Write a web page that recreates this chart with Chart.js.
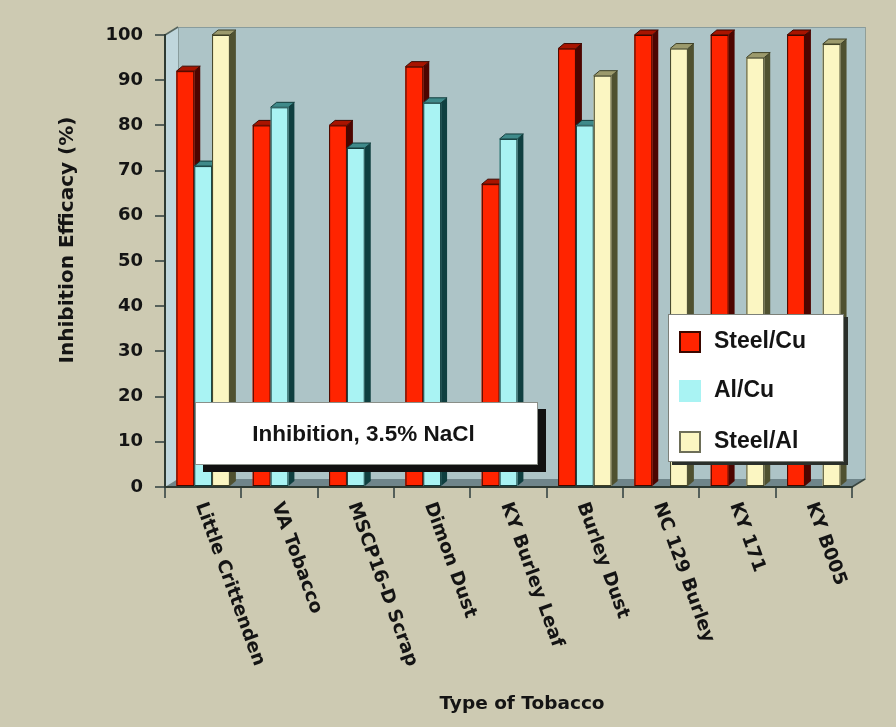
<!DOCTYPE html>
<html>
<head>
<meta charset="utf-8">
<script src="https://cdn.jsdelivr.net/npm/chart.js@4.4.1/dist/chart.umd.min.js"></script>
<style>
  html, body { margin: 0; padding: 0; background: #cdcab2; }
  #wrap { width: 896px; height: 727px; }
</style>
</head>
<body>
<div id="wrap"><canvas id="c" width="896" height="727"></canvas></div>
<script>
// Tobacco extract types along the x axis
const categories = ['Little Crittenden', 'VA Tobacco', 'MSCP16-D Scrap', 'Dimon Dust',
  'KY Burley Leaf', 'Burley Dust', 'NC 129 Burley', 'KY 171', 'KY B005'];

// Inhibition efficacy (%) per metal couple; null = not tested
const steelCu = [92, 80, 80, 93, 67, 97, 100, 100, 100];
const alCu    = [71, 84, 75, 85, 77, 80, null, null, null];
const steelAl = [100, null, null, null, null, 91, 97, 95, 98];

const seriesNames = ['Steel/Cu', 'Al/Cu', 'Steel/Al'];
const yTicks = [0, 10, 20, 30, 40, 50, 60, 70, 80, 90, 100];

const yTitle = 'Inhibition Efficacy (%)';
const xTitle = 'Type of Tobacco';
const noteText = 'Inhibition, 3.5% NaCl';

// Shading for the pseudo-3D columns: front face, right side, top cap, edge
const palettes = [
  { front: '#ff2400', side: '#4d0500', top: '#a81400', edge: '#3a0800' },
  { front: '#a9f3f3', side: '#0f3f40', top: '#3f8a8a', edge: '#123c3c' },
  { front: '#fbf6c2', side: '#4f5130', top: '#9c9a6c', edge: '#3d3f25' }
];

const INK = '#141414';
const DEJAVU = '"DejaVu Sans", sans-serif';
const LIB = '"Liberation Sans", Arial, sans-serif';

// Box depth of the plot (back wall offset) and of each column
const WALL = { dx: 13, dy: -8 };
const COL = { dx: 6, dy: -5 };

const scene3d = {
  id: 'scene3d',
  beforeDraw(chart) {
    const { ctx, chartArea: a } = chart;
    ctx.save();
    ctx.fillStyle = '#cdcab2';
    ctx.fillRect(0, 0, chart.width, chart.height);
    // back wall
    ctx.fillStyle = '#adc4c7';
    ctx.fillRect(a.left + WALL.dx, a.top + WALL.dy, a.right - a.left, a.bottom - a.top);
    ctx.strokeStyle = 'rgba(120,140,140,0.7)';
    ctx.lineWidth = 1;
    ctx.strokeRect(a.left + WALL.dx + 0.5, a.top + WALL.dy + 0.5, a.right - a.left, a.bottom - a.top);
    // left side wall
    ctx.fillStyle = '#bfd6dc';
    ctx.beginPath();
    ctx.moveTo(a.left, a.top);
    ctx.lineTo(a.left + WALL.dx, a.top + WALL.dy);
    ctx.lineTo(a.left + WALL.dx, a.bottom + WALL.dy);
    ctx.lineTo(a.left, a.bottom);
    ctx.closePath();
    ctx.fill();
    ctx.strokeStyle = '#56655e';
    ctx.lineWidth = 1.5;
    ctx.beginPath();
    ctx.moveTo(a.left, a.top);
    ctx.lineTo(a.left + WALL.dx, a.top + WALL.dy);
    ctx.stroke();
    // floor
    ctx.fillStyle = '#6f858a';
    ctx.beginPath();
    ctx.moveTo(a.left, a.bottom);
    ctx.lineTo(a.left + WALL.dx, a.bottom + WALL.dy);
    ctx.lineTo(a.right + WALL.dx, a.bottom + WALL.dy);
    ctx.lineTo(a.right, a.bottom);
    ctx.closePath();
    ctx.fill();
    ctx.strokeStyle = '#3a4640';
    ctx.beginPath();
    ctx.moveTo(a.right, a.bottom);
    ctx.lineTo(a.right + WALL.dx, a.bottom + WALL.dy);
    ctx.stroke();
    ctx.restore();
  },
  afterDatasetsDraw(chart) {
    const { ctx } = chart;
    ctx.save();
    const n = chart.data.labels.length;
    for (let i = 0; i < n; i++) {
      chart.data.datasets.forEach((ds, d) => {
        const meta = chart.getDatasetMeta(d);
        if (meta.hidden) return;
        const el = meta.data[i];
        if (!el || ds.data[i] == null) return;
        const p = el.getProps(['x', 'y', 'base', 'width'], true);
        const x0 = p.x - p.width / 2, x1 = p.x + p.width / 2;
        const yt = p.y, yb = p.base;
        const pal = palettes[d];
        // side face
        ctx.fillStyle = pal.side;
        ctx.beginPath();
        ctx.moveTo(x1, yt);
        ctx.lineTo(x1 + COL.dx, yt + COL.dy);
        ctx.lineTo(x1 + COL.dx, yb + COL.dy);
        ctx.lineTo(x1, yb);
        ctx.closePath();
        ctx.fill();
        // top cap
        ctx.fillStyle = pal.top;
        ctx.beginPath();
        ctx.moveTo(x0, yt);
        ctx.lineTo(x0 + COL.dx, yt + COL.dy);
        ctx.lineTo(x1 + COL.dx, yt + COL.dy);
        ctx.lineTo(x1, yt);
        ctx.closePath();
        ctx.fill();
        ctx.strokeStyle = pal.edge;
        ctx.lineWidth = 1;
        ctx.stroke();
        // front face
        ctx.fillStyle = pal.front;
        ctx.fillRect(x0, yt, x1 - x0, yb - yt);
        ctx.strokeStyle = pal.edge;
        ctx.strokeRect(x0 + 0.5, yt + 0.5, x1 - x0 - 1, yb - yt - 1);
      });
    }

    // annotation box with drop shadow
    const a = chart.chartArea;
    const bx = a.left + 30, by = 402, bw = 343, bh = 63;
    ctx.fillStyle = '#111';
    ctx.fillRect(bx + 8, by + 7, bw, bh);
    ctx.fillStyle = '#ffffff';
    ctx.fillRect(bx, by, bw, bh);
    ctx.strokeStyle = '#8a8f88';
    ctx.lineWidth = 1;
    ctx.strokeRect(bx + 0.5, by + 0.5, bw - 1, bh - 1);
    ctx.fillStyle = INK;
    ctx.font = 'bold 22.5px ' + LIB;
    ctx.textAlign = 'center';
    ctx.textBaseline = 'middle';
    ctx.fillText(noteText, bx + bw / 2 - 3, by + bh / 2 + 1);

    // legend box
    const lx = 668, ly = 314, lw = 176, lh = 148;
    ctx.fillStyle = '#2a2f2a';
    ctx.fillRect(lx + 4, ly + 3, lw, lh);
    ctx.fillStyle = '#ffffff';
    ctx.fillRect(lx, ly, lw, lh);
    ctx.strokeStyle = '#7c8079';
    ctx.strokeRect(lx + 0.5, ly + 0.5, lw - 1, lh - 1);
    ctx.font = 'bold 23px ' + LIB;
    ctx.textAlign = 'left';
    ctx.textBaseline = 'middle';
    const rowY = [342, 391, 442];
    seriesNames.forEach((name, d) => {
      const pal = palettes[d];
      const sy = rowY[d] - 11;
      ctx.fillStyle = pal.front;
      ctx.fillRect(679, sy, 22, 22);
      if (d === 0) {
        ctx.strokeStyle = '#3a0800'; ctx.lineWidth = 2;
        ctx.strokeRect(680, sy + 1, 20, 20);
      } else if (d === 2) {
        ctx.strokeStyle = '#6d6e58'; ctx.lineWidth = 2;
        ctx.strokeRect(680, sy + 1, 20, 20);
      }
      ctx.fillStyle = INK;
      ctx.fillText(name, 714, rowY[d]);
    });
    ctx.restore();
  },
  afterDraw(chart) {
    const { ctx } = chart;
    const xs = chart.scales.x;
    ctx.save();
    ctx.fillStyle = INK;
    // rotated category labels
    ctx.font = 'bold 18.5px ' + DEJAVU;
    ctx.textAlign = 'left';
    ctx.textBaseline = 'middle';
    chart.data.labels.forEach((lab, i) => {
      const x = xs.getPixelForValue(i) - 3;
      ctx.save();
      ctx.translate(x, 503);
      ctx.rotate(70 * Math.PI / 180);
      ctx.fillText(lab, 0, 0);
      ctx.restore();
    });
    // axis titles
    ctx.font = 'bold 18.5px ' + DEJAVU;
    ctx.textAlign = 'center';
    ctx.fillText(xTitle, 522, 704);
    ctx.save();
    ctx.translate(68, 240);
    ctx.rotate(-Math.PI / 2);
    ctx.font = 'bold 20px ' + DEJAVU;
    ctx.fillText(yTitle, 0, 0);
    ctx.restore();
    ctx.restore();
  }
};

new Chart(document.getElementById('c'), {
  type: 'bar',
  data: {
    labels: categories,
    datasets: [
      { label: seriesNames[0], data: steelCu, backgroundColor: palettes[0].front },
      { label: seriesNames[1], data: alCu, backgroundColor: palettes[1].front },
      { label: seriesNames[2], data: steelAl, backgroundColor: palettes[2].front }
    ]
  },
  options: {
    responsive: false,
    animation: false,
    devicePixelRatio: 1,
    layout: { padding: { top: 35, right: 44, left: 0, bottom: 0 } },
    datasets: { bar: { categoryPercentage: 0.7, barPercentage: 1.0 } },
    plugins: { legend: { display: false }, tooltip: { enabled: false } },
    scales: {
      x: {
        grid: { offset: true, drawOnChartArea: false, drawTicks: true, tickLength: 11, color: '#55605a', lineWidth: 2 },
        border: { color: '#2e3a32', width: 2 },
        ticks: { display: false },
        afterFit(s) { s.height = 240; }
      },
      y: {
        min: 0, max: 100,
        afterBuildTicks(s) { s.ticks = yTicks.map(v => ({ value: v })); },
        grid: { drawOnChartArea: false, drawTicks: true, tickLength: 10, color: '#55605a', lineWidth: 2 },
        border: { color: '#2e3a32', width: 2 },
        ticks: { color: INK, padding: 12, font: { family: DEJAVU, weight: 'bold', size: 18 } },
        afterFit(s) { s.width = 165; }
      }
    }
  },
  plugins: [scene3d]
});
</script>
</body>
</html>
